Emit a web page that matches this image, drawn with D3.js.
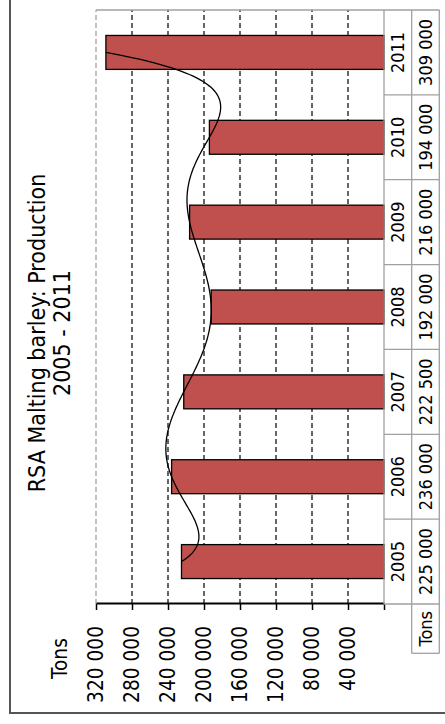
<!DOCTYPE html>
<html>
<head>
<meta charset="utf-8">
<script src="https://cdn.jsdelivr.net/npm/d3@7"></script>
<style>
  body { margin: 0; background: #fff; }
  svg { display: block; font-family: "DejaVu Sans Condensed", "DejaVu Sans", sans-serif; }
</style>
</head>
<body>
<svg width="445" height="724"></svg>
<script>
var years = ["2005", "2006", "2007", "2008", "2009", "2010", "2011"];
var tons = [225000, 236000, 222500, 192000, 216000, 194000, 309000];
var tickValues = [0, 40000, 80000, 120000, 160000, 200000, 240000, 280000, 320000];
var titleLines = ["RSA Malting barley: Production", "2005 - 2011"];
var unit = "Tons";

var svg = d3.select("svg");

// the chart is laid out landscape (724 x 445) and then turned a quarter to the left
var W = 724;
var g = svg.append("g").attr("transform", "translate(0," + W + ") rotate(-90)");

var fmt = d3.formatLocale({ decimal: ",", thousands: "\u00a0", grouping: [3], currency: ["", ""] }).format(",");

var x = d3.scaleBand()
    .domain(years)
    .range([120, 714])
    .paddingInner(0.6)
    .paddingOuter(0.3);

var y = d3.scaleLinear()
    .domain([0, 320000])
    .range([384, 96]);

// outer chart border (only two sides fall inside the picture)
g.append("rect")
    .attr("x", 11).attr("y", 10)
    .attr("width", 900).attr("height", 600)
    .attr("fill", "none")
    .attr("stroke", "#555")
    .attr("stroke-width", 2);

// gridlines
g.append("g")
  .selectAll("line")
  .data(tickValues.filter(function(d) { return d > 0; }))
  .enter().append("line")
    .attr("x1", 120).attr("x2", 714)
    .attr("y1", function(d) { return y(d); })
    .attr("y2", function(d) { return y(d); })
    .attr("stroke", function(d) { return d === 320000 ? "#9a9a9a" : "#000"; })
    .attr("stroke-width", 1.2)
    .attr("stroke-dasharray", "5,3");

// plot area edge
g.append("line")
    .attr("x1", 714).attr("x2", 714)
    .attr("y1", 96).attr("y2", 439.5)
    .attr("stroke", "#a0a0a0")
    .attr("stroke-width", 1.3);

// bars
g.append("g")
  .selectAll("rect")
  .data(tons)
  .enter().append("rect")
    .attr("x", function(d, i) { return x(years[i]); })
    .attr("y", function(d) { return y(d); })
    .attr("width", x.bandwidth())
    .attr("height", function(d) { return y(0) - y(d); })
    .attr("fill", "#c0504d")
    .attr("stroke", "#000")
    .attr("stroke-width", 1.3);

// polynomial trendline, order 6 (with 7 points it runs through each bar end)
function trend(t) {
  return d3.sum(tons, function(v, i) {
    var p = v;
    for (var j = 0; j < tons.length; j++) {
      if (j !== i) p *= (t - j) / (i - j);
    }
    return p;
  });
}
var x0 = x(years[0]) + x.bandwidth() / 2;
var line = d3.line()
    .x(function(t) { return x0 + t * x.step(); })
    .y(function(t) { return y(trend(t)); });

g.append("path")
    .datum(d3.range(0, tons.length - 1 + 1e-9, 0.02))
    .attr("d", line)
    .attr("fill", "none")
    .attr("stroke", "#000")
    .attr("stroke-width", 1.3);

// value axis
var axis = g.append("g")
    .attr("transform", "translate(120,0)")
    .call(d3.axisLeft(y)
      .tickValues(tickValues)
      .tickSize(6)
      .tickSizeOuter(0)
      .tickPadding(16)
      .tickFormat(function(d) { return d ? fmt(d) : ""; }));
axis.attr("font-family", null).attr("font-size", 20.7);
axis.select(".domain").attr("stroke-width", 2);
axis.selectAll(".tick line").attr("stroke-width", 1.5);
axis.selectAll(".tick text").attr("fill", "#000");

g.append("text")
    .attr("x", 65.5).attr("y", 66.5)
    .attr("text-anchor", "middle")
    .attr("font-size", 20.7)
    .text(unit);

// title
g.append("g")
  .selectAll("text")
  .data(titleLines)
  .enter().append("text")
    .attr("x", 391)
    .attr("y", function(d, i) { return 45 + i * 25; })
    .attr("text-anchor", "middle")
    .attr("font-size", 23)
    .text(function(d) { return d; });

// data table under the plot
var table = g.append("g")
    .attr("stroke", "#a0a0a0")
    .attr("stroke-width", 1.3);
[384, 411.7, 439.3].forEach(function(yy, k) {
  table.append("line")
      .attr("x1", k === 0 ? 120 : 70.7).attr("x2", 714)
      .attr("y1", yy).attr("y2", yy);
});
years.forEach(function(yr) {
  table.append("line")
      .attr("x1", x(yr) - x.step() * 0.3).attr("x2", x(yr) - x.step() * 0.3)
      .attr("y1", 384).attr("y2", 439.3);
});
table.append("line")
    .attr("x1", 70.7).attr("x2", 70.7)
    .attr("y1", 411.7).attr("y2", 439.3);

var cells = g.append("g").attr("font-size", 18).attr("text-anchor", "middle");
cells.selectAll(".yr")
  .data(years)
  .enter().append("text")
    .attr("class", "yr")
    .attr("x", function(d) { return x(d) + x.bandwidth() / 2; })
    .attr("y", 404.3)
    .text(function(d) { return d; });
cells.selectAll(".val")
  .data(tons)
  .enter().append("text")
    .attr("class", "val")
    .attr("x", function(d, i) { return x(years[i]) + x.bandwidth() / 2; })
    .attr("y", 432)
    .text(function(d) { return fmt(d); });
cells.append("text")
    .attr("x", 95.3).attr("y", 432)
    .text(unit);
</script>
</body>
</html>
